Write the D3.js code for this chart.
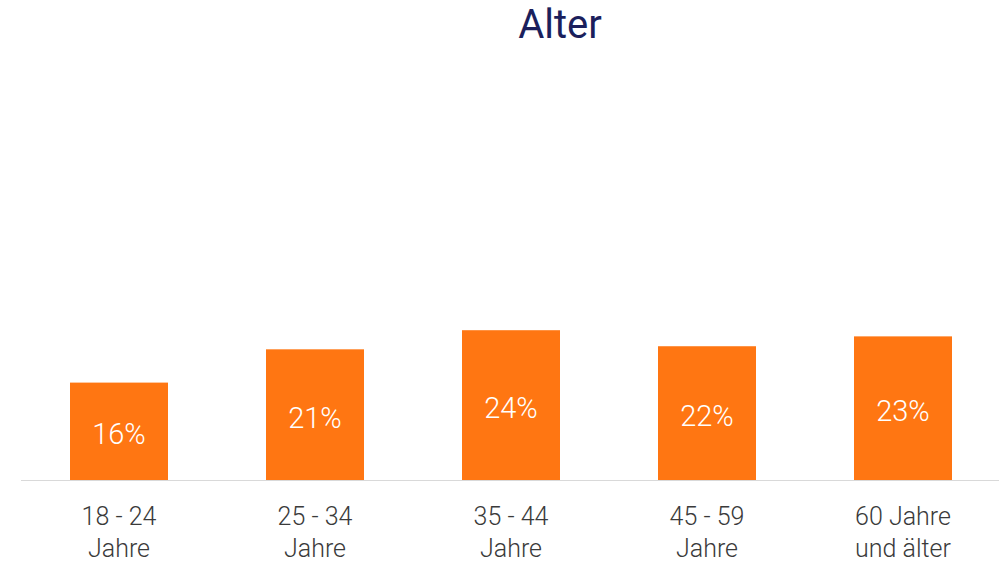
<!DOCTYPE html>
<html lang="de">
<head>
    <meta charset="UTF-8">
    <script src="https://cdn.jsdelivr.net/npm/d3@7/dist/d3.min.js"></script>
    <title>Alter</title>
    <style>
        body { margin: 0; background: #fff; }
        svg { display: block; font-family: Roboto, sans-serif; }
    </style>
</head>
<body>
<svg id="chart"></svg>
<script>
    const categories = [["18 - 24", "Jahre"], ["25 - 34", "Jahre"], ["35 - 44", "Jahre"], ["45 - 59", "Jahre"], ["60 Jahre", "und älter"]];
    const values = [15.8, 21.2, 24.3, 21.7, 23.3];
    const labels = ["16%", "21%", "24%", "22%", "23%"];

    const width = 999, height = 563;
    const baseline = 480;

    const svg = d3.select("#chart")
        .attr("width", width)
        .attr("height", height);

    const x = d3.scaleBand()
        .domain(d3.range(categories.length))
        .range([21, 1001])
        .paddingInner(0.5)
        .paddingOuter(0.25);

    const y = d3.scaleLinear()
        .domain([0, 73])
        .range([baseline, 30]);

    svg.append("text")
        .attr("x", 560)
        .attr("y", 38)
        .attr("text-anchor", "middle")
        .attr("font-size", 40)
        .attr("fill", "#1b1f5c")
        .text("Alter");

    svg.append("g")
        .selectAll("rect")
        .data(values)
        .join("rect")
        .attr("x", (d, i) => x(i))
        .attr("y", d => y(d))
        .attr("width", x.bandwidth())
        .attr("height", d => baseline - y(d))
        .attr("fill", "#ff7612");

    svg.append("g")
        .selectAll("text")
        .data(values)
        .join("text")
        .attr("x", (d, i) => x(i) + x.bandwidth() / 2)
        .attr("y", d => (y(d) + baseline) / 2 + 13)
        .attr("text-anchor", "middle")
        .attr("font-size", 29)
        .attr("font-weight", 300)
        .attr("fill", "#fff")
        .text((d, i) => labels[i]);

    // baseline
    svg.append("line")
        .attr("x1", 21)
        .attr("x2", width)
        .attr("y1", baseline + 0.5)
        .attr("y2", baseline + 0.5)
        .attr("stroke", "#d9d9d9")
        .attr("stroke-width", 1);

    const cat = svg.append("g")
        .selectAll("text")
        .data(categories)
        .join("text")
        .attr("text-anchor", "middle")
        .attr("font-size", 25)
        .attr("font-weight", 300)
        .attr("fill", "#3a3a3a");

    cat.selectAll("tspan")
        .data((d, i) => d.map(t => ({t, i})))
        .join("tspan")
        .attr("x", d => x(d.i) + x.bandwidth() / 2)
        .attr("y", (d, j) => 525 + j * 32)
        .text(d => d.t);
</script>
</body>
</html>
